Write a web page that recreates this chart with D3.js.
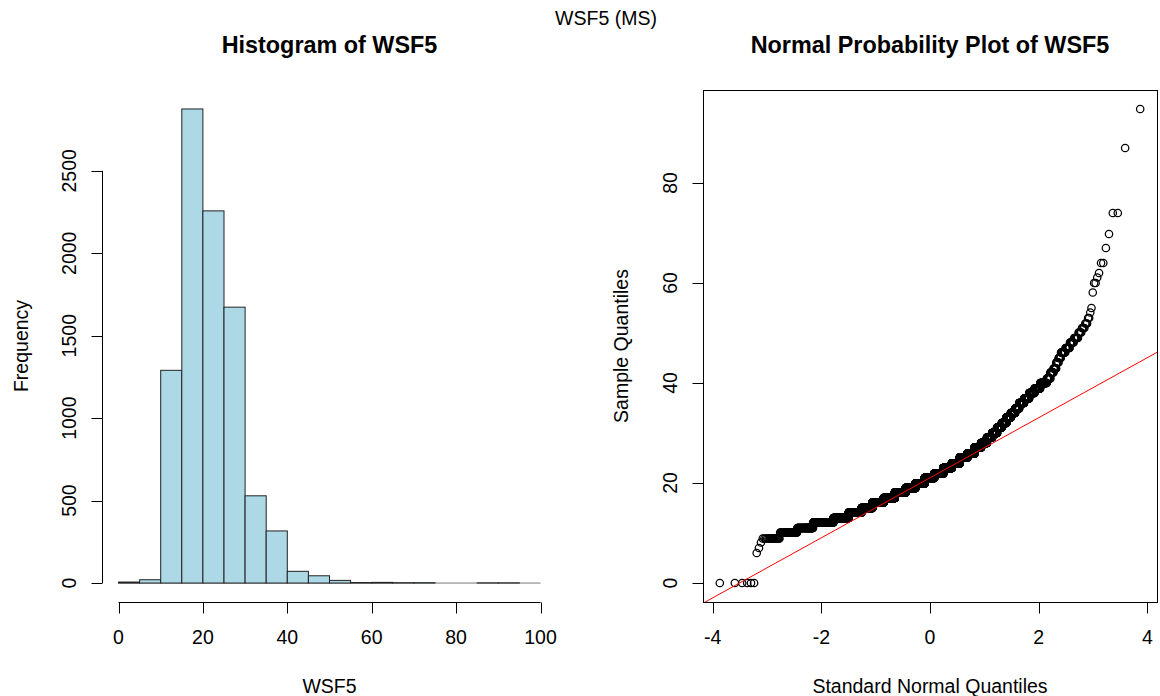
<!DOCTYPE html>
<html>
<head>
<meta charset="utf-8">
<script src="https://cdnjs.cloudflare.com/ajax/libs/d3/7.8.5/d3.min.js"></script>
<style>
    body { margin: 0; background: #fff; }
    text { font-family: "Liberation Sans", Arial, sans-serif; fill: #000; }
</style>
</head>
<body>
<div id="chart"></div>
<script>

// Histogram counts, bins of width 5 from 0 to 100
var binEdges = d3.range(0, 101, 5);
var histCounts = [6, 20, 1290, 2875, 2257, 1673, 529, 316, 71, 44, 16, 3, 4, 2, 2, 0, 0, 1, 1, 0];

// Distinct WSF5 values and how often each occurs (sample for the QQ plot)
var wsfValues = [0.0, 6.0, 7.0, 8.1, 8.9, 10.1, 11.0, 12.1, 13.0, 14.1, 15.0,
    16.1, 17.0, 18.1, 19.0, 19.9, 21.0, 21.9, 23.0, 23.9, 25.1, 25.9, 27.1, 28.0,
    29.1, 30.0, 31.1, 32.0, 33.1, 34.0, 34.9, 36.0, 36.9, 38.0, 38.9, 40.0, 40.9,
    42.1, 42.9, 44.1, 45.0, 46.1, 47.0, 48.1, 49.0, 50.1, 51.0, 51.9, 53.0, 54.1,
    55.0, 58.1, 60.0, 61.1, 62.0, 64.0, 67.0, 69.8, 74.0, 87.0, 94.8];
var wsfCounts = [6, 1, 1, 1, 17, 40, 77, 200, 270, 330, 373,
    480, 560, 620, 620, 595, 640, 600, 540, 477, 420, 360, 300, 240,
    190, 163, 140, 120, 105, 90, 74, 80, 70, 62, 54, 50, 22,
    17, 13, 10, 9, 15, 12, 9, 8, 5, 4, 3, 2, 1,
    1, 1, 2, 1, 1, 2, 1, 1, 2, 1, 1];

var histTicksX = [0, 20, 40, 60, 80, 100],
    histTicksY = [0, 500, 1000, 1500, 2000, 2500],
    qqTicksX = [-4, -2, 0, 2, 4],
    qqTicksY = [0, 20, 40, 60, 80];


// --> CREATE SVG DRAWING AREA
var width = 1160,
    height = 696;

var svg = d3.select("#chart").append("svg")
    .attr("width", width)
    .attr("height", height);

var fontSize = 19.5;

// Plot regions (R style: both panels share the same vertical extent)
var plotTop = 90,
    plotBottom = 602;


// Inverse normal CDF (Acklam)
function qnorm(p) {
    var a = [-3.969683028665376e+01, 2.209460984245205e+02, -2.759285104469687e+02, 1.383577518672690e+02, -3.066479806614716e+01, 2.506628277459239e+00];
    var b = [-5.447609879822406e+01, 1.615858368580409e+02, -1.556989798598866e+02, 6.680131188771972e+01, -1.328068155288572e+01];
    var c = [-7.784894002430293e-03, -3.223964580411365e-01, -2.400758277161838e+00, -2.549671010269097e+00, 4.374664141464968e+00, 2.938163982698783e+00];
    var d = [7.784695709041462e-03, 3.224671290700398e-01, 2.445134137142996e+00, 3.754408661907416e+00];
    var plow = 0.02425, q, r;
    if (p < plow) {
        q = Math.sqrt(-2 * Math.log(p));
        return (((((c[0]*q+c[1])*q+c[2])*q+c[3])*q+c[4])*q+c[5]) / ((((d[0]*q+d[1])*q+d[2])*q+d[3])*q+1);
    }
    if (p > 1 - plow) {
        q = Math.sqrt(-2 * Math.log(1 - p));
        return -(((((c[0]*q+c[1])*q+c[2])*q+c[3])*q+c[4])*q+c[5]) / ((((d[0]*q+d[1])*q+d[2])*q+d[3])*q+1);
    }
    q = p - 0.5; r = q * q;
    return (((((a[0]*r+a[1])*r+a[2])*r+a[3])*r+a[4])*r+a[5])*q / (((((b[0]*r+b[1])*r+b[2])*r+b[3])*r+b[4])*r+1);
}

// Expand the value table into the sorted sample
var sample = [];
wsfValues.forEach(function(v, i) {
    for (var k = 0; k < wsfCounts[i]; k++) sample.push(v);
});
var n = sample.length;
var qqData = sample.map(function(v, i) {
    return { theo: qnorm((i + 1 - 0.5) / n), obs: v };
});


// Overall title
svg.append("text")
    .attr("x", 606)
    .attr("y", 25)
    .attr("text-anchor", "middle")
    .style("font-size", fontSize + "px")
    .text("WSF5 (MS)");


// ---------------- Histogram ----------------
var xH = d3.scaleLinear().domain([0, 100]).range([118.5, 540.5]);
var yMaxH = d3.max(histCounts);
var yH = d3.scaleLinear()
    .domain([-0.04 * yMaxH, yMaxH * 1.04])
    .range([plotBottom, plotTop]);

var hist = svg.append("g");

// empty bins still get their (flat) border, like R does
hist.selectAll("line.empty")
    .data(histCounts)
    .enter().append("line")
    .attr("class", "empty")
    .attr("x1", function(d, i) { return xH(binEdges[i]); })
    .attr("x2", function(d, i) { return xH(binEdges[i + 1]); })
    .attr("y1", yH(0))
    .attr("y2", yH(0))
    .attr("stroke", "#777")
    .attr("stroke-width", 1);

hist.selectAll("rect.bar")
    .data(histCounts)
    .enter().append("rect")
    .attr("class", "bar")
    .attr("x", function(d, i) { return xH(binEdges[i]); })
    .attr("width", function(d, i) { return xH(binEdges[i + 1]) - xH(binEdges[i]); })
    .attr("y", function(d) { return yH(d); })
    .attr("height", function(d) { return yH(0) - yH(d); })
    .attr("fill", "#add8e6")
    .attr("stroke", "#222")
    .attr("stroke-width", 1);

// x axis
var axH = hist.append("g").attr("transform", "translate(0," + (plotBottom + 0.5) + ")");
axH.append("line")
    .attr("x1", xH(0)).attr("x2", xH(100))
    .attr("stroke", "#000");
axH.selectAll("line.tick")
    .data(histTicksX)
    .enter().append("line")
    .attr("class", "tick")
    .attr("x1", function(d) { return Math.round(xH(d)) + 0.5; })
    .attr("x2", function(d) { return Math.round(xH(d)) + 0.5; })
    .attr("y1", 0).attr("y2", 11)
    .attr("stroke", "#000");
axH.selectAll("text")
    .data(histTicksX)
    .enter().append("text")
    .attr("x", function(d) { return xH(d); })
    .attr("y", 41)
    .attr("text-anchor", "middle")
    .style("font-size", fontSize + "px")
    .text(function(d) { return d; });

// y axis
var ayH = hist.append("g").attr("transform", "translate(102.5,0)");
ayH.append("line")
    .attr("y1", yH(0)).attr("y2", yH(2500))
    .attr("stroke", "#000");
ayH.selectAll("line.tick")
    .data(histTicksY)
    .enter().append("line")
    .attr("class", "tick")
    .attr("y1", function(d) { return Math.round(yH(d)) + 0.5; })
    .attr("y2", function(d) { return Math.round(yH(d)) + 0.5; })
    .attr("x1", 0).attr("x2", -11)
    .attr("stroke", "#000");
ayH.selectAll("text")
    .data(histTicksY)
    .enter().append("text")
    .attr("transform", function(d) { return "translate(-27," + yH(d) + ") rotate(-90)"; })
    .attr("text-anchor", "middle")
    .style("font-size", fontSize + "px")
    .text(function(d) { return d; });

// titles
hist.append("text")
    .attr("x", (xH(0) + xH(100)) / 2)
    .attr("y", 53)
    .attr("text-anchor", "middle")
    .style("font-size", (fontSize * 1.2) + "px")
    .style("font-weight", "bold")
    .text("Histogram of WSF5");
hist.append("text")
    .attr("x", (xH(0) + xH(100)) / 2)
    .attr("y", 693)
    .attr("text-anchor", "middle")
    .style("font-size", fontSize + "px")
    .text("WSF5");
hist.append("text")
    .attr("transform", "translate(27.5," + ((plotTop + plotBottom) / 2) + ") rotate(-90)")
    .attr("text-anchor", "middle")
    .style("font-size", fontSize + "px")
    .text("Frequency");


// ---------------- Normal probability plot ----------------
var boxLeft = 703,
    boxRight = 1157;

var theoExt = d3.extent(qqData, function(d) { return d.theo; }),
    obsExt = d3.extent(qqData, function(d) { return d.obs; });
var padX = 0.04 * (theoExt[1] - theoExt[0]),
    padY = 0.04 * (obsExt[1] - obsExt[0]);

var xQ = d3.scaleLinear()
    .domain([theoExt[0] - padX, theoExt[1] + padX])
    .range([boxLeft, boxRight]);
var yQ = d3.scaleLinear()
    .domain([obsExt[0] - padY, obsExt[1] + padY])
    .range([plotBottom, plotTop]);

var qq = svg.append("g");

qq.append("clipPath")
    .attr("id", "qq-clip")
    .append("rect")
    .attr("x", boxLeft).attr("y", plotTop)
    .attr("width", boxRight - boxLeft).attr("height", plotBottom - plotTop);

// points
qq.append("g")
    .selectAll("circle")
    .data(qqData)
    .enter().append("circle")
    .attr("cx", function(d) { return xQ(d.theo); })
    .attr("cy", function(d) { return yQ(d.obs); })
    .attr("r", 3.7)
    .attr("fill", "none")
    .attr("stroke", "#000")
    .attr("stroke-width", 1.25);

// qqline through the quartiles
var q1 = d3.quantile(sample, 0.25),
    q3 = d3.quantile(sample, 0.75);
var slope = (q3 - q1) / (qnorm(0.75) - qnorm(0.25)),
    intercept = q1 - slope * qnorm(0.25);
var xd = xQ.domain();

qq.append("line")
    .attr("clip-path", "url(#qq-clip)")
    .attr("x1", xQ(xd[0])).attr("y1", yQ(intercept + slope * xd[0]))
    .attr("x2", xQ(xd[1])).attr("y2", yQ(intercept + slope * xd[1]))
    .attr("stroke", "#ff0000")
    .attr("stroke-width", 1);

// box
qq.append("rect")
    .attr("x", boxLeft + 0.5).attr("y", plotTop + 0.5)
    .attr("width", boxRight - boxLeft).attr("height", plotBottom - plotTop)
    .attr("fill", "none")
    .attr("stroke", "#000");

// x axis
var axQ = qq.append("g").attr("transform", "translate(0," + (plotBottom + 0.5) + ")");
axQ.selectAll("line.tick")
    .data(qqTicksX)
    .enter().append("line")
    .attr("class", "tick")
    .attr("x1", function(d) { return Math.round(xQ(d)) + 0.5; })
    .attr("x2", function(d) { return Math.round(xQ(d)) + 0.5; })
    .attr("y1", 0).attr("y2", 11)
    .attr("stroke", "#000");
axQ.selectAll("text")
    .data(qqTicksX)
    .enter().append("text")
    .attr("x", function(d) { return xQ(d); })
    .attr("y", 41)
    .attr("text-anchor", "middle")
    .style("font-size", fontSize + "px")
    .text(function(d) { return d < 0 ? "-" + Math.abs(d) : d; });

// y axis
var ayQ = qq.append("g").attr("transform", "translate(" + (boxLeft + 0.5) + ",0)");
ayQ.selectAll("line.tick")
    .data(qqTicksY)
    .enter().append("line")
    .attr("class", "tick")
    .attr("y1", function(d) { return Math.round(yQ(d)) + 0.5; })
    .attr("y2", function(d) { return Math.round(yQ(d)) + 0.5; })
    .attr("x1", 0).attr("x2", -11)
    .attr("stroke", "#000");
ayQ.selectAll("text")
    .data(qqTicksY)
    .enter().append("text")
    .attr("transform", function(d) { return "translate(-27," + yQ(d) + ") rotate(-90)"; })
    .attr("text-anchor", "middle")
    .style("font-size", fontSize + "px")
    .text(function(d) { return d; });

// titles
qq.append("text")
    .attr("x", (boxLeft + boxRight) / 2)
    .attr("y", 53)
    .attr("text-anchor", "middle")
    .style("font-size", (fontSize * 1.2) + "px")
    .style("font-weight", "bold")
    .text("Normal Probability Plot of WSF5");
qq.append("text")
    .attr("x", (boxLeft + boxRight) / 2)
    .attr("y", 693)
    .attr("text-anchor", "middle")
    .style("font-size", fontSize + "px")
    .text("Standard Normal Quantiles");
qq.append("text")
    .attr("transform", "translate(627.5," + ((plotTop + plotBottom) / 2) + ") rotate(-90)")
    .attr("text-anchor", "middle")
    .style("font-size", fontSize + "px")
    .text("Sample Quantiles");

</script>
</body>
</html>
